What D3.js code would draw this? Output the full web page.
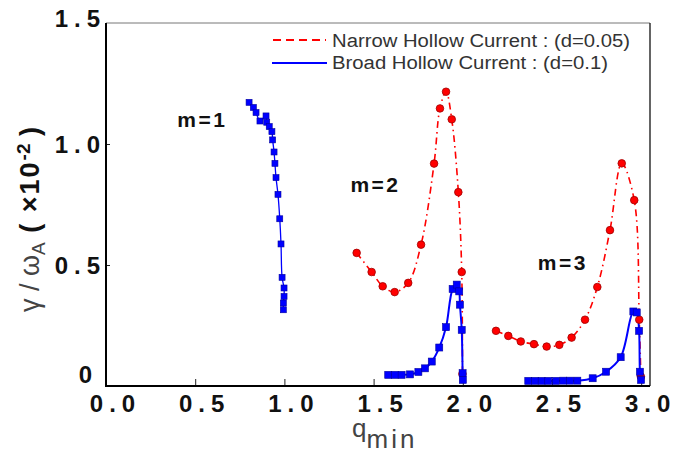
<!DOCTYPE html>
<html><head><meta charset="utf-8">
<script src="https://cdn.jsdelivr.net/npm/d3@7"></script>
<style>body{margin:0;background:#fff}svg{display:block}</style>
</head><body>
<svg id="c" width="675" height="454"></svg>
<script>
// ---- data ----
const xTickValues = [0, 0.5, 1.0, 1.5, 2.0, 2.5, 3.0];
const xTickLabels = ["0.0","0.5","1.0","1.5","2.0","2.5","3.0"];
const yTickValues = [0, 0.5, 1.0, 1.5];
const yTickLabels = ["0","0.5","1.0","1.5"];
const legendLabels = ["Narrow Hollow Current : (d=0.05)", "Broad Hollow Current : (d=0.1)"];
const modeLabels = ["m=1","m=2","m=3"];
const modeLabelPos = [[0.40,1.07],[1.37,0.80],[2.42,0.48]];

// Broad hollow current (d=0.1), m=1
const broadM1q = [0.802,0.826,0.841,0.863,0.897,0.901,0.915,0.930,0.934,0.942,0.947,0.953,0.964,0.974,0.981,0.987,0.998,0.998,0.994,0.994];
const broadM1g = [1.172,1.151,1.130,1.095,1.116,1.090,1.072,1.051,1.017,0.967,0.920,0.861,0.792,0.691,0.587,0.449,0.405,0.370,0.343,0.315];
// Narrow hollow current (d=0.05), m=2
const narrowM2q = [1.405,1.489,1.551,1.618,1.694,1.766,1.839,1.872,1.906,1.938,1.975,1.994,1.998];
const narrowM2g = [0.550,0.471,0.412,0.388,0.426,0.584,0.919,1.147,1.216,1.102,0.801,0.471,0.050];
// Broad, m=2
const broadM2q = [1.582,1.620,1.657,1.704,1.751,1.788,1.826,1.868,1.906,1.943,1.966,1.980,1.984,1.994,1.999,2.000];
const broadM2g = [0.046,0.046,0.046,0.048,0.058,0.073,0.101,0.159,0.243,0.401,0.419,0.391,0.336,0.232,0.053,0.025];
// Narrow, m=3
const narrowM3q = [2.186,2.255,2.325,2.399,2.470,2.541,2.610,2.685,2.754,2.825,2.891,2.961,2.989,2.998];
const narrowM3g = [0.228,0.207,0.184,0.173,0.163,0.170,0.200,0.274,0.409,0.644,0.920,0.768,0.274,0.039];
// Broad, m=3
const broadM3q = [2.367,2.405,2.442,2.479,2.522,2.563,2.601,2.642,2.728,2.803,2.885,2.956,2.975,2.988,2.993,2.999];
const broadM3g = [0.021,0.021,0.021,0.021,0.021,0.022,0.022,0.022,0.032,0.059,0.119,0.308,0.304,0.228,0.059,0.025];

// ---- chart ----
const svg = d3.select("#c");
const L = 106, R = 650, T = 23, B = 386;
const x = d3.scaleLinear().domain([0, 3]).range([L, 641.2]);
const y = d3.scaleLinear().domain([0, 1.5]).range([B, T]);

const zip = (a, b) => a.map((v, i) => [v, b[i]]);
const series = [
  {pts: zip(broadM1q, broadM1g), type: "broad", w: 1.3, size: 6},
  {pts: zip(narrowM2q, narrowM2g), type: "narrow"},
  {pts: zip(broadM2q, broadM2g), type: "broad", w: 2, size: 7},
  {pts: zip(narrowM3q, narrowM3g), type: "narrow"},
  {pts: zip(broadM3q, broadM3g), type: "broad", w: 2, size: 7}
];

const line = d3.line().x(d => x(d[0])).y(d => y(d[1])).curve(d3.curveCatmullRom.alpha(0.5));

// frame
svg.append("line").attr("x1", L).attr("x2", R).attr("y1", T).attr("y2", T).attr("stroke", "#777").attr("stroke-width", 1);
svg.append("line").attr("x1", R).attr("x2", R).attr("y1", T).attr("y2", B).attr("stroke", "#111").attr("stroke-width", 1.3);

// x axis
const xAxis = d3.axisBottom(x).tickValues(xTickValues).tickSizeInner(-7).tickSizeOuter(0)
  .tickFormat((d, i) => xTickLabels[i]);
const gx = svg.append("g").attr("transform", `translate(0,${B})`).call(xAxis);
gx.select(".domain").remove();
gx.selectAll(".tick line").attr("stroke", "#222").attr("stroke-width", 1).filter(d => d === 0).remove();
gx.selectAll(".tick text").attr("y", 0).attr("dy", 26).attr("dx", 9)
  .attr("font-family", "Liberation Sans, Arial, sans-serif").attr("font-weight", "bold")
  .attr("font-size", 24).attr("letter-spacing", 6).attr("fill", "#111");

// y axis
const yAxis = d3.axisLeft(y).tickValues(yTickValues).tickSizeInner(-4).tickSizeOuter(0)
  .tickFormat((d, i) => yTickLabels[i]);
const gy = svg.append("g").attr("transform", `translate(${L},0)`).call(yAxis);
gy.select(".domain").remove();
gy.selectAll(".tick line").attr("stroke", "#222").attr("stroke-width", 1).filter(d => d === 0 || d === 1.5).remove();
gy.selectAll(".tick text").attr("x", 0).attr("dx", d => d === 0 ? -8 : 0)
  .attr("dy", d => d === 0 ? "-0.15em" : (d === 1.5 ? "0.15em" : "0.35em"))
  .attr("font-family", "Liberation Sans, Arial, sans-serif").attr("font-weight", "bold")
  .attr("font-size", 24).attr("letter-spacing", 6).attr("fill", "#111");

// axis lines (thick left / bottom)
svg.append("line").attr("x1", L).attr("x2", L).attr("y1", T).attr("y2", B + 1).attr("stroke", "#000").attr("stroke-width", 2);
svg.append("line").attr("x1", L - 1).attr("x2", R).attr("y1", B).attr("y2", B).attr("stroke", "#000").attr("stroke-width", 2);

// lines
series.forEach(s => {
  const p = svg.append("path").attr("d", line(s.pts)).attr("fill", "none");
  if (s.type === "narrow") p.attr("stroke", "#ff0000").attr("stroke-width", 1.6).attr("stroke-dasharray", "7,4,1.5,4");
  else p.attr("stroke", "#0000ff").attr("stroke-width", s.w);
});
// markers
series.forEach(s => {
  if (s.type === "narrow") {
    svg.append("g").selectAll("circle").data(s.pts).join("circle")
      .attr("cx", d => x(d[0])).attr("cy", d => y(d[1])).attr("r", 3.8)
      .attr("fill", "#ff0000").attr("stroke", "#a00000").attr("stroke-width", 0.8);
  } else {
    svg.append("g").selectAll("rect").data(s.pts).join("rect")
      .attr("x", d => x(d[0]) - s.size / 2).attr("y", d => y(d[1]) - s.size / 2)
      .attr("width", s.size).attr("height", s.size)
      .attr("fill", "#0000ff").attr("stroke", "#0000a0").attr("stroke-width", 0.6);
  }
});

// mode labels
modeLabels.forEach((t, i) => {
  svg.append("text").attr("x", x(modeLabelPos[i][0])).attr("y", y(modeLabelPos[i][1]))
    .attr("font-family", "Liberation Sans, Arial, sans-serif").attr("font-weight", "bold")
    .attr("font-size", 21).attr("letter-spacing", 2.5).attr("fill", "#111").text(t);
});

// legend
const lg = svg.append("g").attr("font-family", "Liberation Sans, Arial, sans-serif").attr("font-size", 18).attr("fill", "#333");
lg.append("line").attr("x1", 273).attr("x2", 326).attr("y1", 40).attr("y2", 40)
  .attr("stroke", "#ff0000").attr("stroke-width", 2.2).attr("stroke-dasharray", "8,5");
lg.append("text").attr("x", 332).attr("y", 46.5).attr("textLength", 298).attr("lengthAdjust", "spacingAndGlyphs").text(legendLabels[0]);
lg.append("line").attr("x1", 272).attr("x2", 327).attr("y1", 63).attr("y2", 63)
  .attr("stroke", "#0000ff").attr("stroke-width", 2.2);
lg.append("text").attr("x", 332).attr("y", 69).attr("textLength", 276).attr("lengthAdjust", "spacingAndGlyphs").text(legendLabels[1]);

// y axis title
const yt = svg.append("text").attr("transform", "translate(39,312) rotate(-90)")
  .attr("font-family", "Liberation Sans, Arial, sans-serif").attr("font-size", 27).attr("fill", "#444");
yt.append("tspan").text("γ / ω");
yt.append("tspan").attr("font-size", 19).attr("dy", 6).text("A");
yt.append("tspan").attr("dy", -6).attr("font-weight", "bold").attr("fill", "#111").attr("letter-spacing", 2).text(" ( ×10");
yt.append("tspan").attr("dy", -9).attr("font-size", 19).attr("font-weight", "bold").attr("fill", "#111").text("-2");
yt.append("tspan").attr("dy", 9).attr("font-weight", "bold").attr("fill", "#111").text(" )");

// x axis title
const xt = svg.append("text").attr("x", 352).attr("y", 437)
  .attr("font-family", "Liberation Sans, Arial, sans-serif").attr("font-size", 26).attr("fill", "#444");
xt.append("tspan").text("q");
xt.append("tspan").attr("dy", 11).attr("letter-spacing", 3).text("min");
</script>
</body></html>
